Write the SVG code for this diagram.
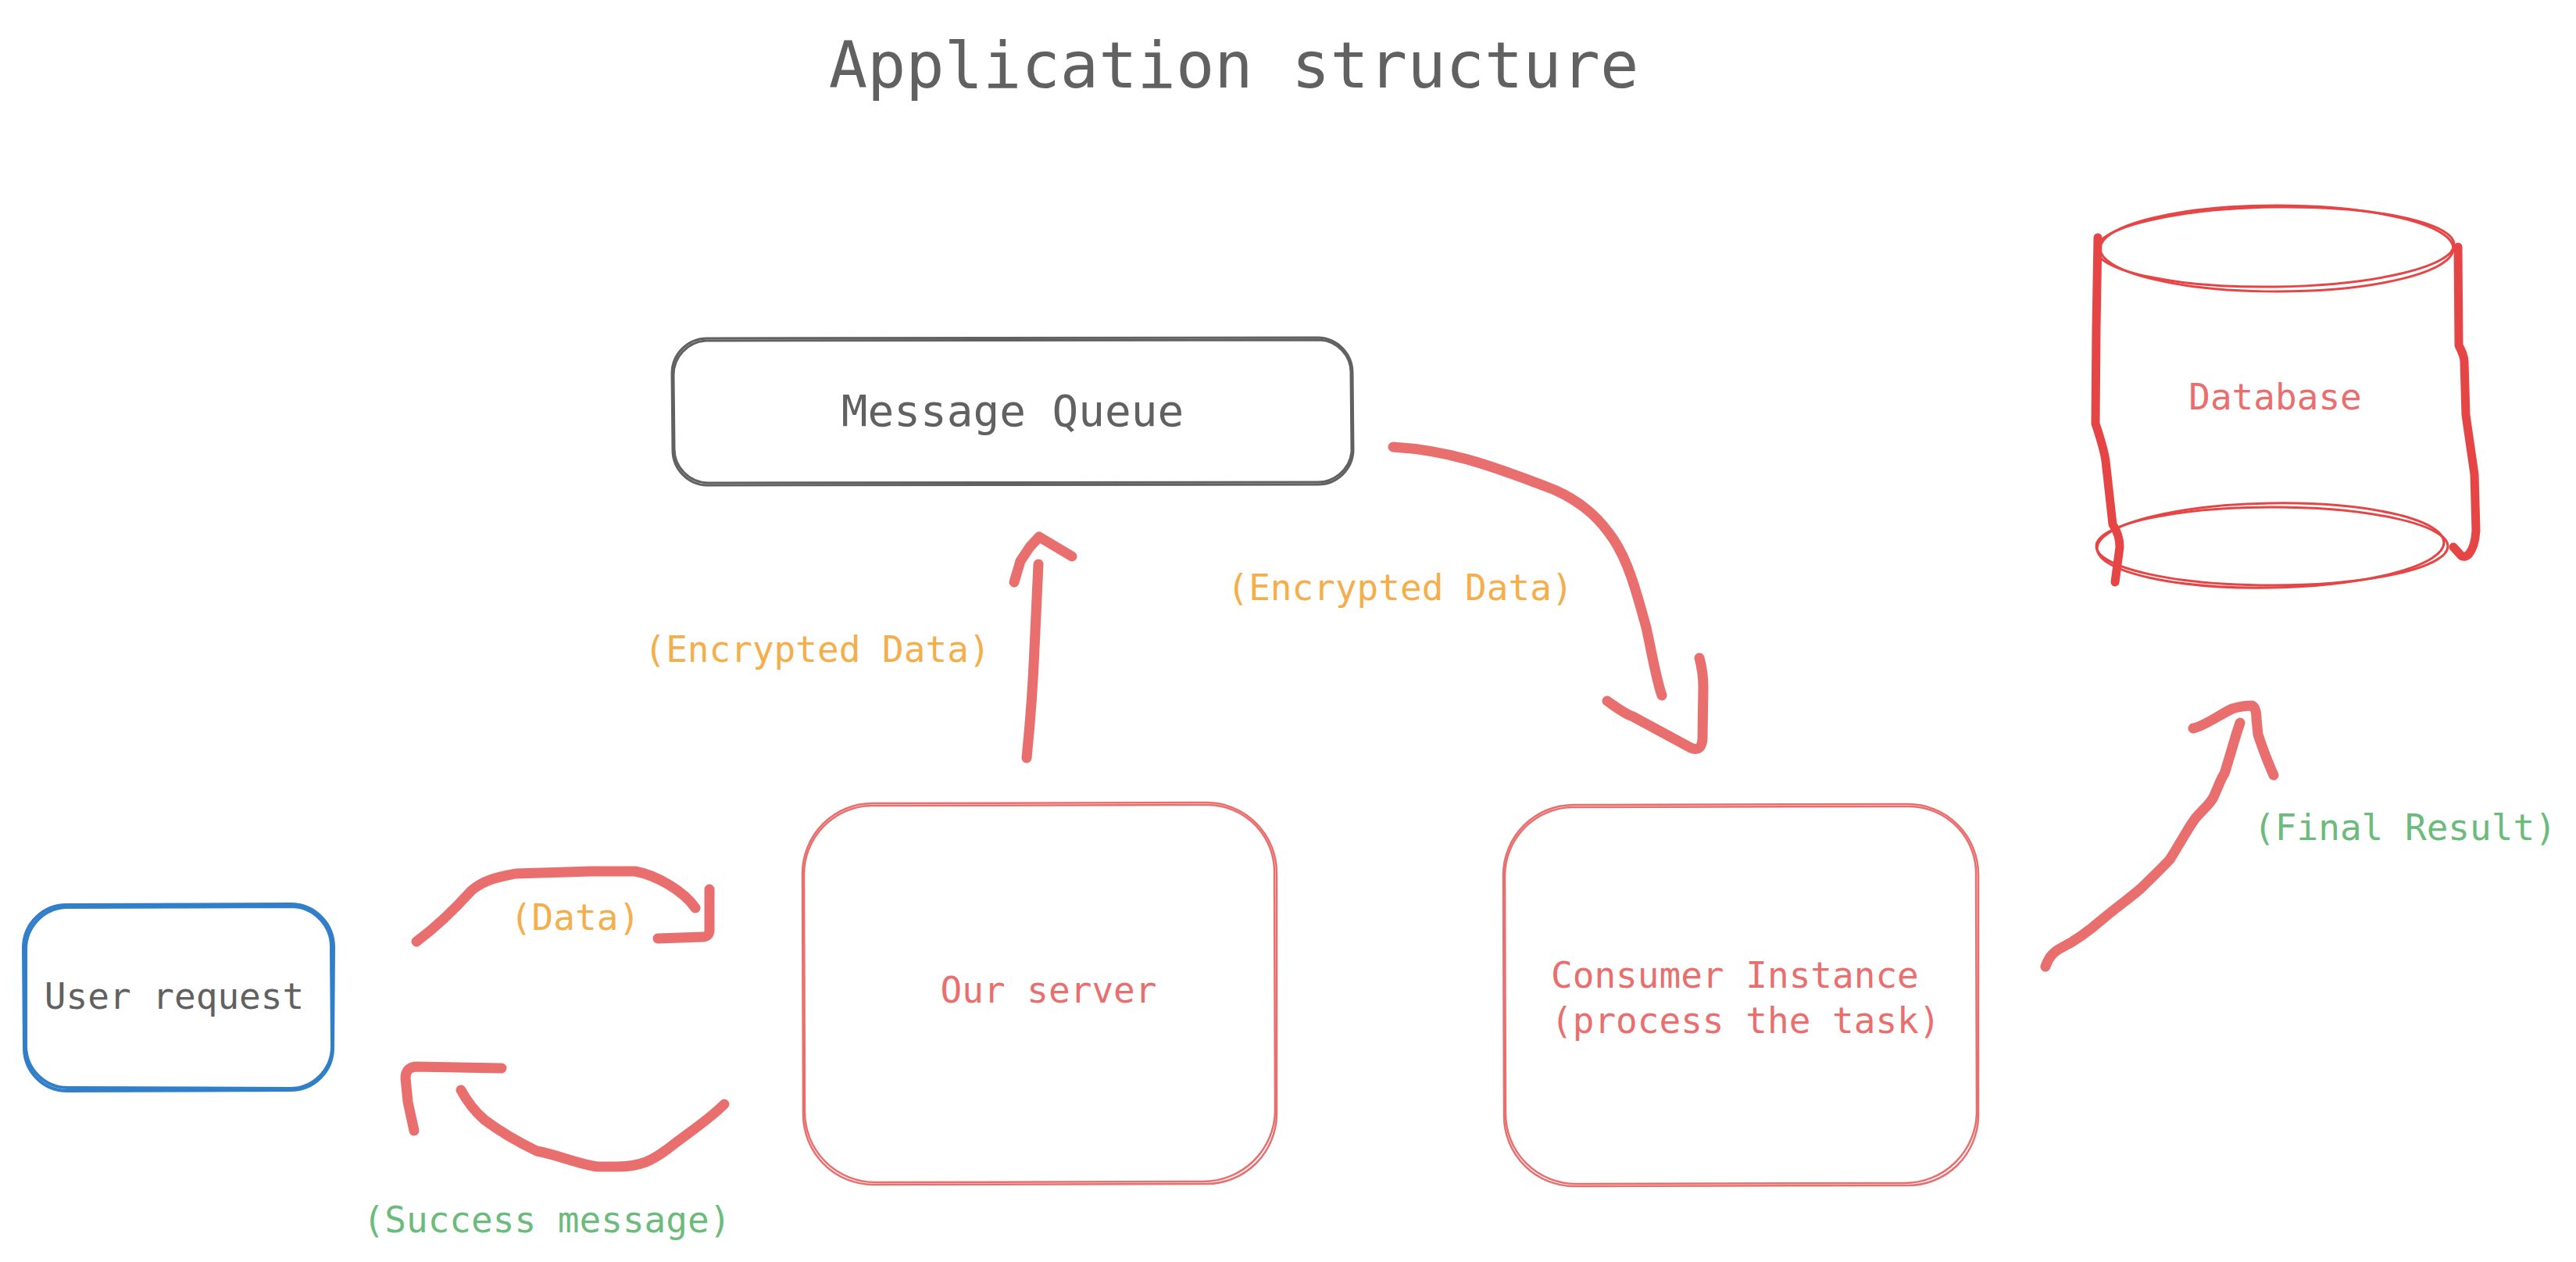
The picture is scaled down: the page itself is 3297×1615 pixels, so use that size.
<svg xmlns="http://www.w3.org/2000/svg" width="3297" height="1615" viewBox="0 0 3297 1615">
<style>
  text { font-family: "DejaVu Sans Mono", "Liberation Mono", monospace; }
  .gray { fill: #616161; }
  .red { fill: #e96f6f; }
  .orange { fill: #f4ae4c; }
  .green { fill: #6dbb7c; }
  .lbl { font-size: 46px; }
  .box { fill: none; stroke-linecap: round; stroke-linejoin: round; }
  .bgray { stroke: #616161; stroke-width: 3; }
  .bred { stroke: #e96f6f; stroke-width: 2.5; }
  .bblue { stroke: #307fc8; stroke-width: 4; }
  .dbthin { fill: none; stroke: #e64545; stroke-width: 3; }
  .dbthick { fill: none; stroke: #e64545; stroke-width: 11; stroke-linecap: round; stroke-linejoin: round; }
  .arrow { fill: none; stroke: #e96f6f; stroke-width: 13; stroke-linecap: round; stroke-linejoin: round; }
</style>
<rect width="3297" height="1615" fill="#ffffff"/>

<text class="gray" x="1579" y="112" font-size="82" text-anchor="middle">Application structure</text>

<g id="message-queue">
  <path class="box bgray" d="M905,433 L1687,432 A45,45 0 0 1 1731,477 L1732,576 A45,45 0 0 1 1687,620 L905,621 A45,45 0 0 1 861,576 L860,478 A45,45 0 0 1 905,433 Z"/>
  <path class="box bgray" d="M903,436 L1689,435 A42,42 0 0 1 1729,479 L1730,578 A44,44 0 0 1 1684,617 L907,618 A44,44 0 0 1 863,573 L862,480 A44,44 0 0 1 903,436 Z"/>
  <text class="gray" x="1296" y="545" font-size="56" text-anchor="middle">Message Queue</text>
</g>

<g id="user-request">
  <path class="box bblue" d="M86,1158 L372,1157 A55,55 0 0 1 427,1212 L426,1342 A54,54 0 0 1 372,1395 L86,1396 A55,55 0 0 1 31,1342 L30,1212 A55,55 0 0 1 86,1158 Z"/>
  <path class="box bblue" d="M84,1161 L374,1160 A52,52 0 0 1 424,1214 L425,1340 A54,54 0 0 1 370,1393 L88,1392 A54,54 0 0 1 33,1339 L33,1215 A54,54 0 0 1 84,1161 Z"/>
  <text class="gray lbl" x="223" y="1291" text-anchor="middle">User request</text>
</g>

<g id="our-server">
  <path class="box bred" d="M1117,1028 L1544,1027 A90,90 0 0 1 1634,1117 L1634,1426 A90,90 0 0 1 1544,1515 L1117,1516 A90,90 0 0 1 1028,1426 L1027,1117 A90,90 0 0 1 1117,1028 Z"/>
  <path class="box bred" d="M1115,1031 L1546,1030 A86,86 0 0 1 1631,1120 L1632,1422 A92,92 0 0 1 1540,1512 L1121,1513 A90,90 0 0 1 1030,1422 L1029,1120 A88,88 0 0 1 1115,1031 Z"/>
  <text class="red lbl" x="1342" y="1283" text-anchor="middle">Our server</text>
</g>

<g id="consumer-instance">
  <path class="box bred" d="M2014,1030 L2442,1029 A90,90 0 0 1 2532,1119 L2532,1428 A90,90 0 0 1 2442,1517 L2014,1518 A90,90 0 0 1 1925,1428 L1924,1119 A90,90 0 0 1 2014,1030 Z"/>
  <path class="box bred" d="M2012,1033 L2444,1032 A86,86 0 0 1 2529,1122 L2530,1424 A92,92 0 0 1 2438,1514 L2018,1515 A90,90 0 0 1 1927,1424 L1926,1122 A88,88 0 0 1 2012,1033 Z"/>
  <text class="red lbl" x="1985" y="1264">Consumer Instance</text>
  <text class="red lbl" x="1985" y="1322">(process the task)</text>
</g>

<g id="database">
  <ellipse class="dbthin" cx="2914" cy="318" rx="226" ry="55"/>
  <ellipse class="dbthin" cx="2912" cy="316" rx="229" ry="51" transform="rotate(-0.8 2912 316)"/>
  <ellipse class="dbthin" cx="2908" cy="699" rx="225" ry="50"/>
  <ellipse class="dbthin" cx="2906" cy="698" rx="222" ry="54" transform="rotate(-1 2906 698)"/>
  <path class="dbthick" d="M2685,304 L2683,420 L2682,542 C2688,560 2693,575 2695,590 L2704,671 C2710,680 2713,688 2713,700 L2707,745"/>
  <path class="dbthick" d="M3146,316 L3147,442 C3151,450 3154,456 3154,463 L3156,531 L3167,607 L3169,679 C3168,695 3165,703 3160,709 C3156,713 3152,713 3150,711 L3140,700"/>
  <text class="red lbl" x="2912" y="524" text-anchor="middle">Database</text>
</g>

<g id="connectors">
  <path class="arrow" d="M1314,970 C1318,930 1322,880 1324,830 C1326,790 1328,750 1329,722"/>
  <path class="arrow" d="M1298,745 L1306,718 L1318,700 L1330,687 L1372,712"/>

  <path class="arrow" d="M1783,572 C1850,576 1900,592 1990,627 C2030,645 2050,668 2065,690 C2085,720 2095,760 2107,803 C2115,840 2120,870 2127,890"/>
  <path class="arrow" d="M2057,897 C2070,906 2080,914 2090,917 L2164,957 Q2178,963 2179,945 L2180,880 Q2180,860 2175,842"/>

  <path class="arrow" d="M533,1205 C560,1185 585,1160 603,1140 C620,1125 640,1122 660,1118 L757,1115 L813,1115 C840,1120 875,1140 890,1162"/>
  <path class="arrow" d="M908,1138 L908,1190 Q908,1199 899,1199 L842,1201"/>

  <path class="arrow" d="M927,1413 C905,1435 880,1450 855,1470 C835,1485 820,1493 790,1493 L765,1493 C740,1490 715,1478 687,1473 C660,1460 640,1448 620,1433 C605,1420 597,1408 590,1395"/>
  <path class="arrow" d="M642,1367 L532,1365 Q519,1366 519,1380 L522,1410 L530,1447"/>

  <path class="arrow" d="M2618,1237 C2622,1225 2628,1218 2640,1212 C2660,1202 2675,1190 2690,1177 C2710,1160 2725,1150 2740,1137 C2755,1122 2768,1110 2777,1100 C2790,1080 2800,1060 2810,1047 C2820,1035 2828,1030 2833,1020 C2840,1005 2843,995 2847,990 C2855,965 2860,945 2867,925"/>
  <path class="arrow" d="M2807,932 C2820,930 2840,915 2857,907 Q2870,903 2882,903 Q2888,905 2888,920 L2890,940 Q2900,970 2910,992"/>

  <text class="orange lbl" x="1046" y="847" text-anchor="middle">(Encrypted Data)</text>
  <text class="orange lbl" x="1792" y="768" text-anchor="middle">(Encrypted Data)</text>
  <text class="orange lbl" x="736" y="1190" text-anchor="middle">(Data)</text>
  <text class="green lbl" x="700" y="1577" text-anchor="middle">(Success message)</text>
  <text class="green lbl" x="3078" y="1075" text-anchor="middle">(Final Result)</text>
</g>
</svg>
